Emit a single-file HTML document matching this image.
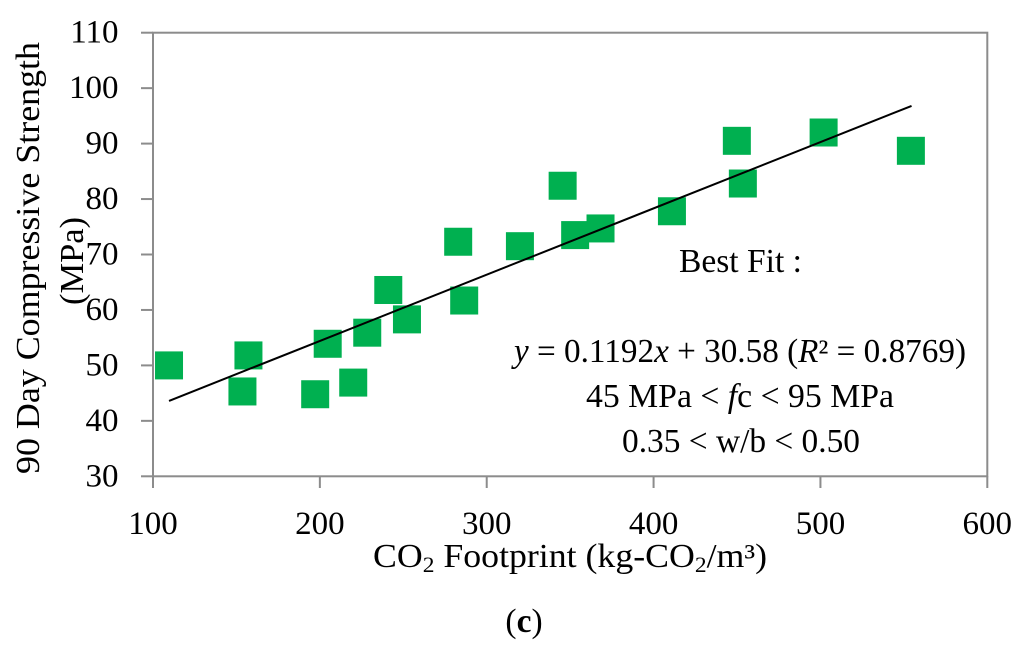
<!DOCTYPE html>
<html lang="en">
<head>
<meta charset="utf-8">
<title>CO2 Footprint vs 90 Day Compressive Strength</title>
<style>
html,body{margin:0;padding:0;background:#fff;}
body{width:1024px;height:651px;overflow:hidden;}
svg{display:block;}
text{font-family:"Liberation Serif",serif;fill:#000;}
</style>
</head>
<body>
<svg id="chart" xmlns="http://www.w3.org/2000/svg" width="1024" height="651" viewBox="0 0 1024 651">
  <rect x="0" y="0" width="1024" height="651" fill="#ffffff"/>
  <g id="axes"></g>
  <g id="points"></g>
  <g id="trend"></g>
  <text transform="translate(39,258) rotate(-90)" text-anchor="middle" font-size="33.5" textLength="432" lengthAdjust="spacingAndGlyphs">90 Day Compressive Strength</text>
  <text transform="translate(83,261) rotate(-90)" text-anchor="middle" font-size="33.5" textLength="88" lengthAdjust="spacingAndGlyphs">(MPa)</text>
  <text x="373" y="567" font-size="33.5" textLength="394" lengthAdjust="spacingAndGlyphs">CO<tspan dy="5" font-size="22">2</tspan><tspan dy="-5"> Footprint (kg-CO</tspan><tspan dy="5" font-size="22">2</tspan><tspan dy="-5">/m³)</tspan></text>
  <text x="679" y="272" font-size="33.5" textLength="123" lengthAdjust="spacingAndGlyphs">Best Fit :</text>
  <text x="514" y="362" font-size="33.5" textLength="452" lengthAdjust="spacingAndGlyphs"><tspan font-style="italic">y</tspan> = 0.1192<tspan font-style="italic">x</tspan> + 30.58 (<tspan font-style="italic">R</tspan>² = 0.8769)</text>
  <text x="586" y="407" font-size="33.5" textLength="308" lengthAdjust="spacingAndGlyphs">45 MPa &lt; <tspan font-style="italic">f</tspan>c &lt; 95 MPa</text>
  <text x="622" y="452" font-size="33.5" textLength="238" lengthAdjust="spacingAndGlyphs">0.35 &lt; w/b &lt; 0.50</text>
  <text x="524" y="632" font-size="33.5" text-anchor="middle">(<tspan font-weight="bold">c</tspan>)</text>
</svg>
<script>
const xTicks = [100, 200, 300, 400, 500, 600];
const yTicks = [30, 40, 50, 60, 70, 80, 90, 100, 110];
const co2Footprint = [109.6, 157.2, 153.6, 197.2, 204.7, 220, 228.4, 241, 252.2, 282.9, 286.5, 319.9, 345.5, 353, 368.2, 411, 449.9, 453.5, 501.9, 554.2];
const compressiveStrength = [50, 51.8, 45.3, 44.8, 53.9, 46.9, 55.9, 63.6, 58.3, 72.3, 61.7, 71.5, 82.4, 73.5, 74.7, 77.8, 90.5, 82.8, 92, 88.7];
const trendX = [109.6, 554.6];
const trendY = [43.6, 96.8];

const NS = 'http://www.w3.org/2000/svg';
const plotLeft = 153, plotRight = 987.3, plotTop = 32.7, plotBottom = 476.3;
const markerSize = 28;
const axisColor = '#8c8c8c';

function xScale(v) {
  return plotLeft + (v - 100) / (600 - 100) * (plotRight - plotLeft);
}
function yScale(v) {
  return plotBottom - (v - 30) / (110 - 30) * (plotBottom - plotTop);
}
function make(tag, attrs) {
  const el = document.createElementNS(NS, tag);
  for (const k in attrs) el.setAttribute(k, attrs[k]);
  return el;
}

const axes = document.getElementById('axes');
const pointsGroup = document.getElementById('points');
const trendGroup = document.getElementById('trend');

const frame = make('rect', {x: plotLeft, y: plotTop, width: plotRight - plotLeft, height: plotBottom - plotTop, fill: 'none', stroke: axisColor, 'stroke-width': 2});


axes.appendChild(frame);

xTicks.forEach(function (t) {
  const px = xScale(t);
  const tick = make('line', {x1: px, x2: px, y1: plotBottom, y2: 488, stroke: axisColor, 'stroke-width': 2});
  
  
  axes.appendChild(tick);
  const label = make('text', {x: px, y: 534, 'font-size': 33, 'text-anchor': 'middle'});
  label.textContent = String(t);
  
  
  axes.appendChild(label);
});

yTicks.forEach(function (t) {
  const py = yScale(t);
  const tick = make('line', {x1: 141, x2: plotLeft, y1: py, y2: py, stroke: axisColor, 'stroke-width': 2});
  
  
  axes.appendChild(tick);
  const label = make('text', {x: 118.5, y: py + 10, 'font-size': 33, 'text-anchor': 'end'});
  label.textContent = String(t);
  
  
  axes.appendChild(label);
});

co2Footprint.forEach(function (v, i) {
  const marker = make('rect', {
    x: xScale(v) - markerSize / 2,
    y: yScale(compressiveStrength[i]) - markerSize / 2,
    width: markerSize,
    height: markerSize,
    fill: '#00b050'
  });
  
  
  pointsGroup.appendChild(marker);
});

const trendLine = make('line', {
  x1: xScale(trendX[0]), y1: yScale(trendY[0]),
  x2: xScale(trendX[1]), y2: yScale(trendY[1]),
  stroke: '#000000', 'stroke-width': 2
});


trendGroup.appendChild(trendLine);
</script>
</body>
</html>
